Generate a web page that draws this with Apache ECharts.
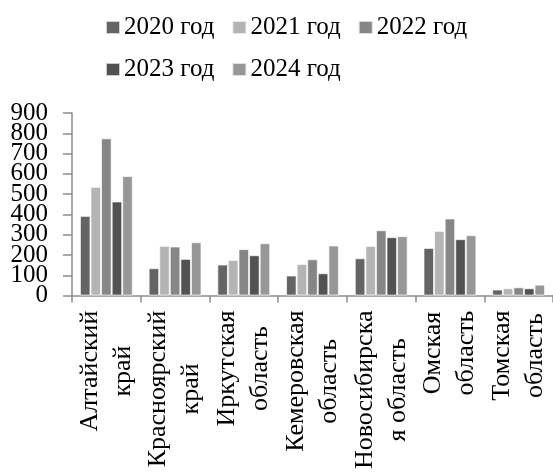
<!DOCTYPE html>
<html>
<head>
<meta charset="utf-8">
<script src="https://cdn.jsdelivr.net/npm/echarts@6/dist/echarts.min.js"></script>
<style>
  html, body { margin: 0; padding: 0; background: #fff; }
  #chart { width: 553px; height: 472px; }
</style>
</head>
<body>
<div id="chart"></div>
<script>
// Regions (two-line captions, drawn rotated under the axis)
const regions = [
  'Алтайский\nкрай',
  'Красноярский\nкрай',
  'Иркутская\nобласть',
  'Кемеровская\nобласть',
  'Новосибирска\nя область',
  'Омская\nобласть',
  'Томская\nобласть'
];

const years = ['2020 год', '2021 год', '2022 год', '2023 год', '2024 год'];

// Values per year, one entry per region
const y2020 = [393, 135, 153, 99, 184, 235, 30];
const y2021 = [536, 245, 176, 156, 245, 319, 36];
const y2022 = [775, 242, 229, 179, 322, 380, 41];
const y2023 = [464, 181, 199, 110, 288, 278, 36];
const y2024 = [589, 263, 258, 247, 293, 298, 54];

// Value axis range
const yMin = 0;
const yMax = 900;
const yStep = 100;

const yearValues = [y2020, y2021, y2022, y2023, y2024];
const yearColors = ['#646464', '#b4b4b4', '#868686', '#525252', '#979797'];

const serif = '"Liberation Serif", "Times New Roman", serif';
const axisGray = '#8c8c8c';

const chart = echarts.init(document.getElementById('chart'), null, { renderer: 'canvas' });

// The tick numbers are large relative to their spacing, so they are split over two
// coincident value axes (even and odd hundreds) to keep every one of them visible.
function valueAxis(showOdd, withLine) {
  return {
    type: 'value',
    position: 'left',
    offset: 0,
    min: yMin,
    max: yMax,
    interval: yStep,
    splitLine: { show: false },
    axisLine: { show: withLine, lineStyle: { color: axisGray, width: 1.5 } },
    axisTick: { show: withLine, length: 9, lineStyle: { color: axisGray, width: 1.5 } },
    axisLabel: {
      margin: 24,
      showMinLabel: true,
      showMaxLabel: true,
      fontFamily: serif,
      fontSize: 25,
      color: '#000',
      formatter: function (v) {
        const odd = Math.round(v / yStep) % 2 === 1;
        return odd === showOdd ? String(v) : '';
      }
    }
  };
}

chart.setOption({
  animation: false,
  backgroundColor: '#ffffff',
  color: yearColors,
  legend: {
    left: 100,
    top: 10,
    width: 370,
    itemWidth: 14,
    itemHeight: 13,
    itemGap: 17,
    icon: 'rect',
    textStyle: { fontFamily: serif, fontSize: 25, color: '#000', padding: [0, 0, 0, -1] },
    data: years
  },
  grid: { left: 72, right: 0, top: 113, bottom: 176, containLabel: false },
  xAxis: {
    type: 'category',
    data: regions,
    boundaryGap: true,
    axisLine: { show: true, lineStyle: { color: axisGray, width: 1.5 } },
    axisTick: { show: true, length: 7, alignWithLabel: false, lineStyle: { color: axisGray, width: 1.5 } },
    axisLabel: {
      interval: 0,
      rotate: 90,
      margin: 15,
      formatter: function (v) {
        return v.split('\n').map(function (s) { return '{c|' + s + '}'; }).join('\n');
      },
      rich: {
        c: { fontFamily: serif, fontSize: 26, lineHeight: 33, align: 'center', color: '#000' }
      }
    }
  },
  yAxis: [valueAxis(false, true), valueAxis(true, false)],
  series: years.map(function (name, i) {
    return {
      name: name,
      type: 'bar',
      yAxisIndex: 0,
      data: yearValues[i],
      barGap: '0%',
      barCategoryGap: '23%',
      itemStyle: { color: yearColors[i], borderColor: 'rgba(255,255,255,0.7)', borderWidth: 1 }
    };
  })
});
</script>
</body>
</html>
